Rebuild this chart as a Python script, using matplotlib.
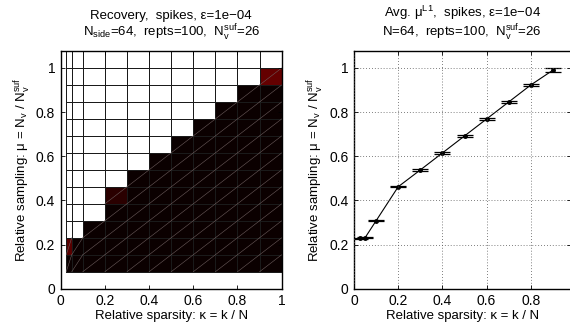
import matplotlib
matplotlib.use('Agg')
import matplotlib.pyplot as plt
import numpy as np

plt.rcParams['font.family'] = ['Liberation Sans', 'DejaVu Sans']
plt.rcParams['font.size'] = 9.5
plt.rcParams['mathtext.fontset'] = 'custom'
plt.rcParams['mathtext.rm'] = 'Liberation Sans'
plt.rcParams['mathtext.it'] = 'Liberation Sans:italic'

### podatki ###
# relative sparsity kappa = k/N (zadnji rob samo za risanje pcolor)
kappa = [0.025, 0.05, 0.1, 0.2, 0.3, 0.4, 0.5, 0.6, 0.7, 0.8, 0.9]
kappa_rob = 1.0
# stevilo meritev N_v, N_v^suf = 26
nv = [2, 4, 6, 8, 10, 12, 14, 16, 18, 20, 22, 24, 26]
nv_rob = 28
n_suf = 26

# delez uspesnih rekonstrukcij (vrstice = nv, stolpci = kappa)
uspeh = [
    [0.0, 0.0, 0.0, 0.0, 0.0, 0.0, 0.0, 0.0, 0.0, 0.0, 0.0],    # nv=2
    [0.12, 0.0, 0.0, 0.0, 0.0, 0.0, 0.0, 0.0, 0.0, 0.0, 0.0],   # nv=4
    [1.0, 1.0, 0.0, 0.0, 0.0, 0.0, 0.0, 0.0, 0.0, 0.0, 0.0],    # nv=6
    [1.0, 1.0, 1.0, 0.0, 0.0, 0.0, 0.0, 0.0, 0.0, 0.0, 0.0],    # nv=8
    [1.0, 1.0, 1.0, 0.05, 0.0, 0.0, 0.0, 0.0, 0.0, 0.0, 0.0],   # nv=10
    [1.0, 1.0, 1.0, 1.0, 0.0, 0.0, 0.0, 0.0, 0.0, 0.0, 0.0],    # nv=12
    [1.0, 1.0, 1.0, 1.0, 1.0, 0.0, 0.0, 0.0, 0.0, 0.0, 0.0],    # nv=14
    [1.0, 1.0, 1.0, 1.0, 1.0, 1.0, 0.0, 0.0, 0.0, 0.0, 0.0],    # nv=16
    [1.0, 1.0, 1.0, 1.0, 1.0, 1.0, 1.0, 0.0, 0.0, 0.0, 0.0],    # nv=18
    [1.0, 1.0, 1.0, 1.0, 1.0, 1.0, 1.0, 1.0, 0.0, 0.0, 0.0],    # nv=20
    [1.0, 1.0, 1.0, 1.0, 1.0, 1.0, 1.0, 1.0, 1.0, 0.0, 0.0],    # nv=22
    [1.0, 1.0, 1.0, 1.0, 1.0, 1.0, 1.0, 1.0, 1.0, 1.0, 0.135],  # nv=24
    [1.0, 1.0, 1.0, 1.0, 1.0, 1.0, 1.0, 1.0, 1.0, 1.0, 1.0],    # nv=26
]

# povprecni potrebni mu za L1 + napake
mu_L1 = [0.228, 0.231, 0.308, 0.462, 0.538, 0.615, 0.692, 0.769, 0.846, 0.923, 0.990]
mu_L1_err = [0.003, 0.003, 0.003, 0.003, 0.003, 0.003, 0.003, 0.003, 0.003, 0.003, 0.008]

ylab = r'Relative sampling: $\mathrm{\mu}$ = N$_\mathrm{v}$ / N$_\mathrm{v}^\mathrm{suf}$'
xlab = 'Relative sparsity: κ = k / N'

fig = plt.figure(figsize=(5.7, 3.25), dpi=100)
ax1 = fig.add_axes([0.1065, 0.1117, 0.3877, 0.7314])
ax2 = fig.add_axes([0.6211, 0.1117, 0.98 * 0.3877, 0.7314])

# --- levi graf: pcolor ---
x_rob = np.array(kappa + [kappa_rob])
y_rob = np.array(nv + [nv_rob]) / n_suf
C = np.array(uspeh)
ax1.pcolormesh(x_rob, y_rob, C, cmap='hot', vmin=0, vmax=1,
               edgecolors='#1a1a1a', linewidth=0.6)
# diagonale (artefakt trikotnikov iz originalne slike)
for i in range(C.shape[0]):
    for j in range(C.shape[1]):
        if C[i, j] < 0.5:
            ax1.plot([x_rob[j], x_rob[j + 1]], [y_rob[i], y_rob[i + 1]],
                     color=(0.42, 0.36, 0.36), lw=0.4)
ax1.set_xlim(0, 1)
ax1.set_ylim(0, nv_rob / n_suf)
ax1.set_xticks([0, 0.2, 0.4, 0.6, 0.8, 1])
ax1.set_xticklabels(['0', '0.2', '0.4', '0.6', '0.8', '1'])
ax1.set_yticks([0, 0.2, 0.4, 0.6, 0.8, 1])
ax1.set_yticklabels(['0', '0.2', '0.4', '0.6', '0.8', '1'])
ax1.set_title('Recovery,  spikes, ε=1e−04\n'
              r'N$_\mathrm{side}$=64,  repts=100,  N$_\mathrm{v}^\mathrm{suf}$=26',
              fontsize=9.5, pad=10, linespacing=1.1)
ax1.set_xlabel(xlab, labelpad=1)
ax1.set_ylabel(ylab, labelpad=2)

# --- desni graf: errorbar ---
ax2.errorbar(kappa, mu_L1, yerr=mu_L1_err, color='k', lw=0.8,
             marker='.', markersize=5, capsize=6, capthick=0.9, elinewidth=0.9)
ax2.set_xlim(0, 0.98)
ax2.set_ylim(0, nv_rob / n_suf)
ax2.set_xticks([0, 0.2, 0.4, 0.6, 0.8])
ax2.set_xticklabels(['0', '0.2', '0.4', '0.6', '0.8'])
ax2.set_yticks([0, 0.2, 0.4, 0.6, 0.8, 1])
ax2.set_yticklabels(['0', '0.2', '0.4', '0.6', '0.8', '1'])
ax2.grid(True, linestyle=(0, (1, 2.5)), color='#555555', lw=0.6)
ax2.set_title(r'Avg. $\mathrm{\mu}^\mathrm{L1}$,  spikes, ε=1e−04' '\n'
              r'N=64,  repts=100,  N$_\mathrm{v}^\mathrm{suf}$=26',
              fontsize=9.5, pad=10, linespacing=1.1)
ax2.set_xlabel(xlab, labelpad=1)
ax2.set_ylabel(ylab, labelpad=2)

for ax in (ax1, ax2):
    ax.tick_params(direction='in', length=3, width=0.6, top=True, right=True,
                   labelsize=10, pad=4)
    for s in ax.spines.values():
        s.set_linewidth(1.0)
    ax.set_axisbelow(False)

fig.savefig('out.png', dpi=100)
